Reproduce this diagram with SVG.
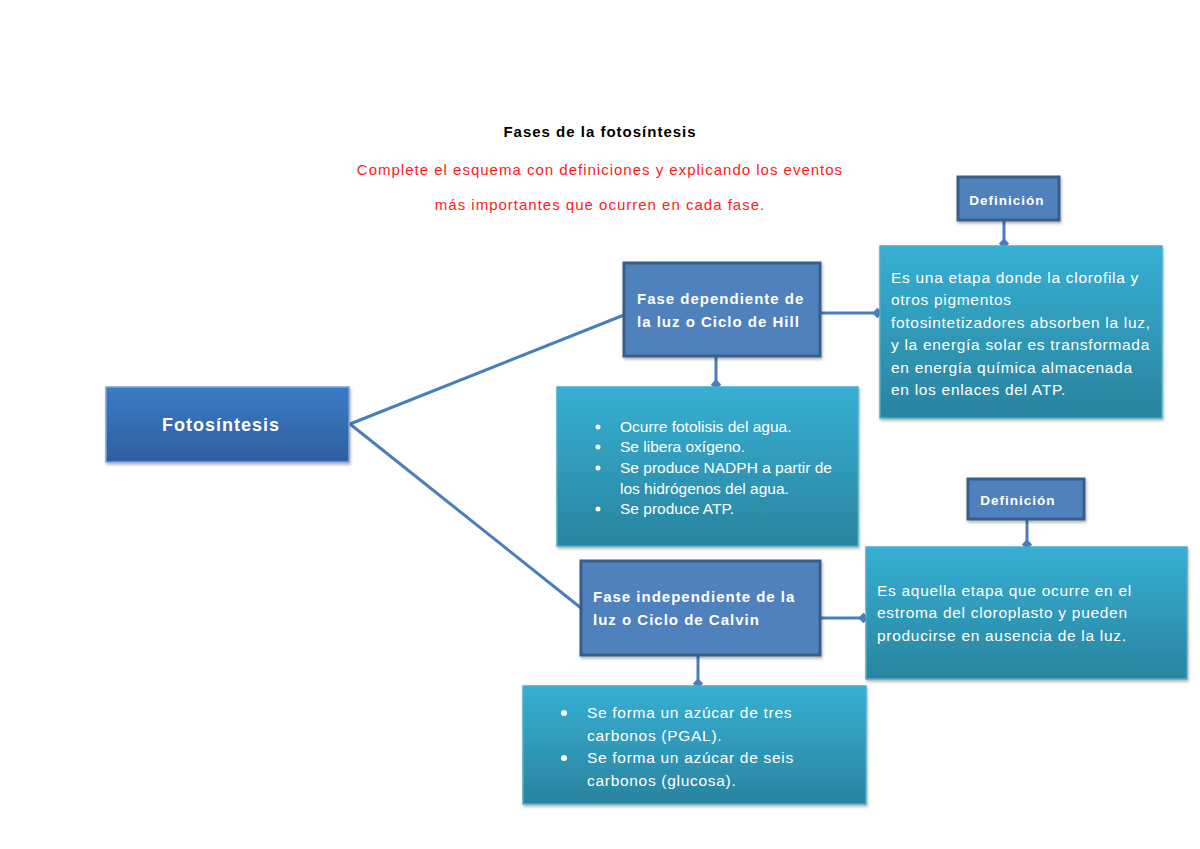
<svg xmlns="http://www.w3.org/2000/svg" width="1200" height="849" viewBox="0 0 1200 849">
<defs>
<linearGradient id="gMain" x1="0" y1="0" x2="0" y2="1"><stop offset="0" stop-color="#3c7ac6"/><stop offset="1" stop-color="#2e5f9f"/></linearGradient>
<linearGradient id="gTeal" x1="0" y1="0" x2="0" y2="1"><stop offset="0" stop-color="#36b0d3"/><stop offset="1" stop-color="#2a839f"/></linearGradient>
<marker id="dia" viewBox="0 0 10 10" refX="7" refY="5" markerWidth="13" markerHeight="13" markerUnits="userSpaceOnUse" orient="auto"><path d="M1,5 L5,1 L9,5 L5,9 Z" fill="#4a7ebb"/></marker>
<filter id="sh" x="-5%" y="-5%" width="115%" height="120%"><feDropShadow dx="1" dy="2" stdDeviation="1.5" flood-color="#000" flood-opacity="0.3"/></filter>
</defs>
<style>
text{font-family:"Liberation Sans",Arial,sans-serif}
.phase{fill:#4f81bd;stroke:#385d8a;stroke-width:3}
.teal{fill:url(#gTeal);stroke:#4bacc6;stroke-width:1.5}
.wb{fill:#fff;font-weight:bold;letter-spacing:1px}
.wt{fill:#fff;font-size:15.5px;letter-spacing:0.7px}
.wt0{fill:#fff;font-size:15.5px;letter-spacing:0}
.con{stroke:#4a7ebb;stroke-width:3;fill:none}
</style>
<rect width="1200" height="849" fill="#fff"/>
<g id="title">
<text x="600" y="137" text-anchor="middle" font-size="15" font-weight="bold" fill="#000" letter-spacing="1">Fases de la fotosíntesis</text>
<text x="600" y="175" text-anchor="middle" font-size="15" fill="#ff1a1a" letter-spacing="1">Complete el esquema con definiciones y explicando los eventos</text>
<text x="600" y="210" text-anchor="middle" font-size="15" fill="#ff1a1a" letter-spacing="1">más importantes que ocurren en cada fase.</text>
</g>
<g id="connectors">
<path class="con" d="M350,424 L624,315"/>
<path class="con" d="M350,424 L581,608"/>
<path class="con" d="M820,313 L880,313" marker-end="url(#dia)"/>
<path class="con" d="M1004,220 L1004,246" marker-end="url(#dia)"/>
<path class="con" d="M716,356 L716,387" marker-end="url(#dia)"/>
<path class="con" d="M820,618 L866,618" marker-end="url(#dia)"/>
<path class="con" d="M1027,519 L1027,547" marker-end="url(#dia)"/>
<path class="con" d="M698,655 L698,686" marker-end="url(#dia)"/>
</g>
<g id="fotosintesis">
<rect x="106" y="387" width="243" height="75" fill="url(#gMain)" stroke="#7aa3d6" stroke-width="1.5" filter="url(#sh)"/>
<text x="221" y="431" text-anchor="middle" class="wb" font-size="18">Fotosíntesis</text>
</g>
<g id="fase-dependiente">
<rect x="624" y="263" width="196" height="93" class="phase" filter="url(#sh)"/>
<text x="637" y="304" class="wb" font-size="15">Fase dependiente de</text>
<text x="637" y="327" class="wb" font-size="15">la luz o Ciclo de Hill</text>
</g>
<g id="definicion-1">
<rect x="958" y="177" width="101" height="43" class="phase" filter="url(#sh)"/>
<text x="1007" y="205" text-anchor="middle" class="wb" font-size="13.5">Definición</text>
</g>
<g id="def-text-1">
<rect x="880" y="246" width="282" height="172" class="teal" filter="url(#sh)"/>
<text class="wt" x="891" y="283">Es una etapa donde la clorofila y</text>
<text class="wt" x="891" y="305">otros pigmentos</text>
<text class="wt" x="891" y="328">fotosintetizadores absorben la luz,</text>
<text class="wt" x="891" y="350">y la energía solar es transformada</text>
<text class="wt" x="891" y="373">en energía química almacenada</text>
<text class="wt" x="891" y="395">en los enlaces del ATP.</text>
</g>
<g id="eventos-1">
<rect x="557" y="387" width="301" height="159" class="teal" filter="url(#sh)"/>
<g fill="#fff"><circle cx="598" cy="427" r="2.5"/><circle cx="598" cy="447" r="2.5"/><circle cx="598" cy="468" r="2.5"/><circle cx="598" cy="509" r="2.5"/></g>
<text class="wt0" x="620" y="432">Ocurre fotolisis del agua.</text>
<text class="wt0" x="620" y="452">Se libera oxígeno.</text>
<text class="wt0" x="620" y="473">Se produce NADPH a partir de</text>
<text class="wt0" x="620" y="494">los hidrógenos del agua.</text>
<text class="wt0" x="620" y="514">Se produce ATP.</text>
</g>
<g id="fase-independiente">
<rect x="581" y="561" width="239" height="94" class="phase" filter="url(#sh)"/>
<text x="593" y="602" class="wb" font-size="15">Fase independiente de la</text>
<text x="593" y="625" class="wb" font-size="15">luz o Ciclo de Calvin</text>
</g>
<g id="definicion-2">
<rect x="968" y="479" width="116" height="40" class="phase" filter="url(#sh)"/>
<text x="1018" y="505" text-anchor="middle" class="wb" font-size="13.5">Definición</text>
</g>
<g id="def-text-2">
<rect x="866" y="547" width="321" height="132" class="teal" filter="url(#sh)"/>
<text class="wt" x="877" y="596">Es aquella etapa que ocurre en el</text>
<text class="wt" x="877" y="618">estroma del cloroplasto y pueden</text>
<text class="wt" x="877" y="641">producirse en ausencia de la luz.</text>
</g>
<g id="eventos-2">
<rect x="523" y="686" width="343" height="118" class="teal" filter="url(#sh)"/>
<g fill="#fff"><circle cx="564" cy="713" r="3"/><circle cx="564" cy="758" r="3"/></g>
<text class="wt" x="587" y="718">Se forma un azúcar de tres</text>
<text class="wt" x="587" y="741">carbonos (PGAL).</text>
<text class="wt" x="587" y="763">Se forma un azúcar de seis</text>
<text class="wt" x="587" y="786">carbonos (glucosa).</text>
</g>
</svg>
